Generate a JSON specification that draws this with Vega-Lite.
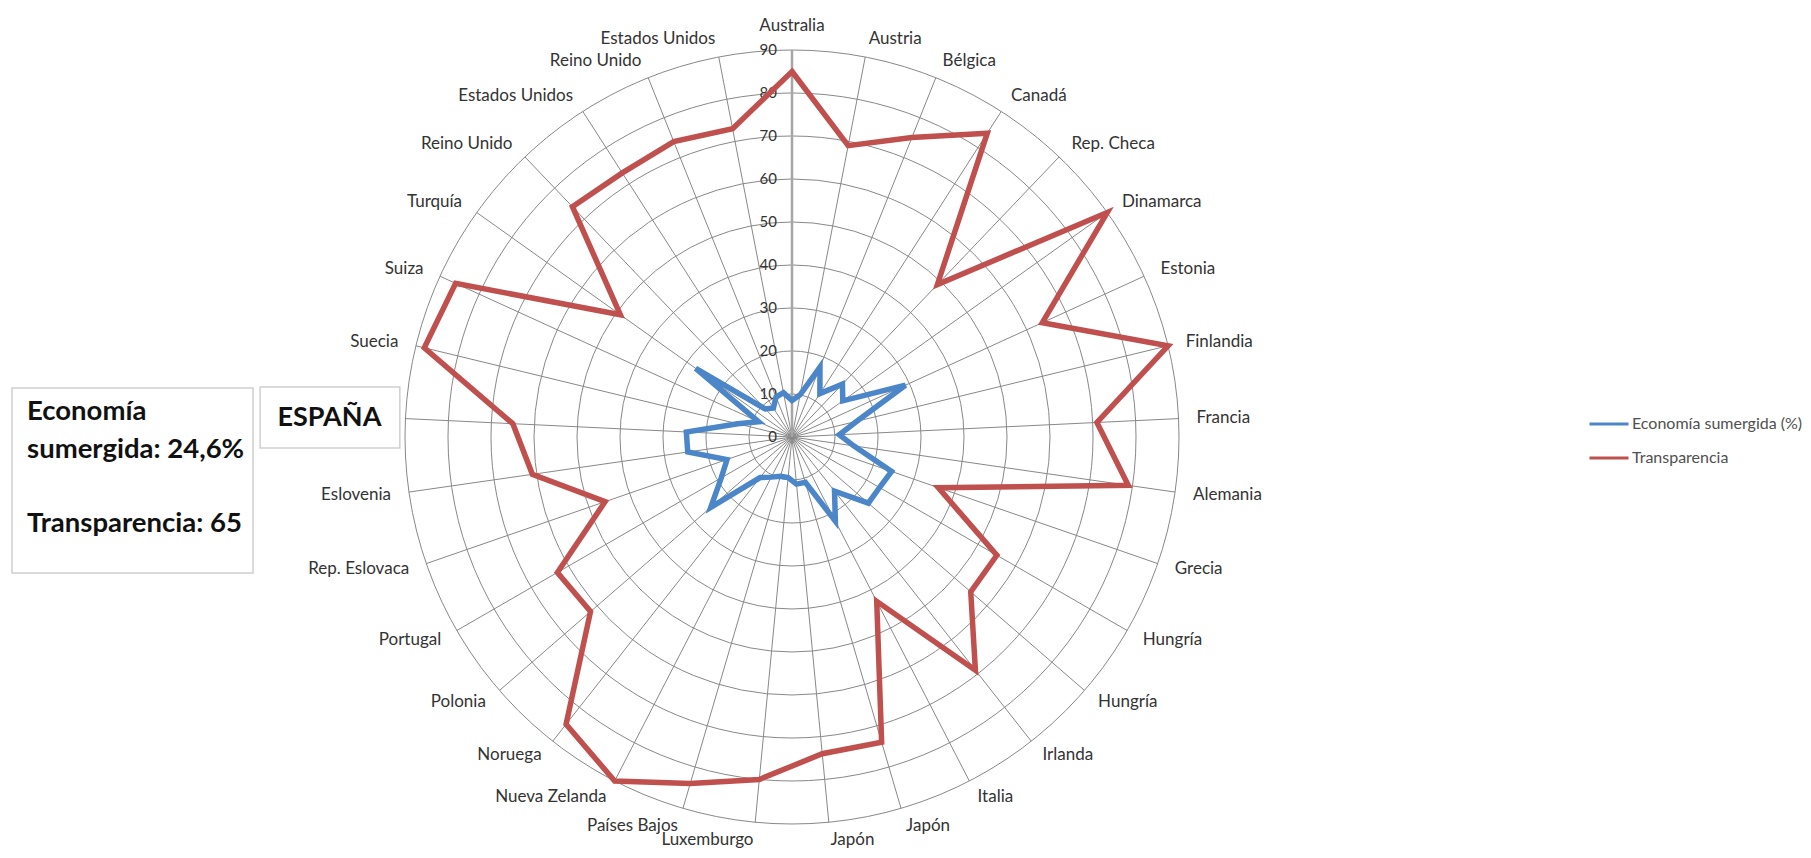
{
  "$schema": "https://vega.github.io/schema/vega-lite/v6.json",
  "width": 1811,
  "height": 858,
  "autosize": "none",
  "padding": 0,
  "background": "white",
  "config": {"view": {"stroke": null}, "font": "Lato"},
  "datasets": {
    "paises": [
      {"pais": "Australia", "sumergida": 8.5, "transparencia": 85},
      {"pais": "Austria", "sumergida": 10, "transparencia": 69},
      {"pais": "Bélgica", "sumergida": 17.5, "transparencia": 75},
      {"pais": "Canadá", "sumergida": 12, "transparencia": 84},
      {"pais": "Rep. Checa", "sumergida": 17, "transparencia": 49},
      {"pais": "Dinamarca", "sumergida": 14.5, "transparencia": 90},
      {"pais": "Estonia", "sumergida": 29, "transparencia": 64},
      {"pais": "Finlandia", "sumergida": 15.5, "transparencia": 90},
      {"pais": "Francia", "sumergida": 11, "transparencia": 71},
      {"pais": "Alemania", "sumergida": 14.5, "transparencia": 79},
      {"pais": "Grecia", "sumergida": 24.5, "transparencia": 36},
      {"pais": "Hungría", "sumergida": 23.5, "transparencia": 55},
      {"pais": "Hungría", "sumergida": 23.5, "transparencia": 55},
      {"pais": "Irlanda", "sumergida": 16, "transparencia": 69},
      {"pais": "Italia", "sumergida": 22, "transparencia": 43},
      {"pais": "Japón", "sumergida": 11, "transparencia": 74},
      {"pais": "Japón", "sumergida": 11, "transparencia": 74},
      {"pais": "Luxemburgo", "sumergida": 9.5, "transparencia": 80},
      {"pais": "Países Bajos", "sumergida": 9.5, "transparencia": 84},
      {"pais": "Nueva Zelanda", "sumergida": 10.5, "transparencia": 90},
      {"pais": "Noruega", "sumergida": 12, "transparencia": 85},
      {"pais": "Polonia", "sumergida": 25, "transparencia": 62},
      {"pais": "Portugal", "sumergida": 19, "transparencia": 63},
      {"pais": "Rep. Eslovaca", "sumergida": 16, "transparencia": 46},
      {"pais": "Eslovenia", "sumergida": 24.5, "transparencia": 61},
      {"pais": "España", "sumergida": 24.6, "transparencia": 65},
      {"pais": "Suecia", "sumergida": 13, "transparencia": 88},
      {"pais": "Suiza", "sumergida": 8.5, "transparencia": 86},
      {"pais": "Turquía", "sumergida": 27.5, "transparencia": 49},
      {"pais": "Reino Unido", "sumergida": 9, "transparencia": 74},
      {"pais": "Estados Unidos", "sumergida": 8, "transparencia": 73},
      {"pais": "Reino Unido", "sumergida": 10, "transparencia": 74},
      {"pais": "Estados Unidos", "sumergida": 10.5, "transparencia": 73}
    ],
    "niveles": [
      {"nivel": 0}, {"nivel": 10}, {"nivel": 20}, {"nivel": 30}, {"nivel": 40},
      {"nivel": 50}, {"nivel": 60}, {"nivel": 70}, {"nivel": 80}, {"nivel": 90}
    ]
  },
  "data": {"name": "paises"},
  "transform": [
    {"window": [{"op": "row_number", "as": "idx"}]},
    {"calculate": "(datum.idx - 1) * 2 * PI / 33", "as": "ang"},
    {"calculate": "0", "as": "cero"},
    {"calculate": "90 * sin(datum.ang)", "as": "sx"},
    {"calculate": "90 * cos(datum.ang)", "as": "sy"},
    {"calculate": "94.2 * sin(datum.ang)", "as": "lx"},
    {"calculate": "94.2 * cos(datum.ang)", "as": "ly"}
  ],
  "layer": [
    {
      "data": {"name": "niveles"},
      "transform": [{"filter": "datum.nivel > 0"}, {"calculate": "0", "as": "cero"}],
      "mark": {"type": "point", "shape": "circle", "filled": false, "opacity": 1, "stroke": "#888888", "strokeWidth": 1},
      "encoding": {
        "x": {"field": "cero", "type": "quantitative", "scale": {"domain": [-184.19, 236.98], "nice": false, "zero": false}, "axis": null},
        "y": {"field": "cero", "type": "quantitative", "scale": {"domain": [-97.91, 101.63], "nice": false, "zero": false}, "axis": null},
        "size": {"field": "nivel", "type": "quantitative", "scale": {"type": "pow", "exponent": 2, "domain": [0, 90], "range": [0, 599076]}, "legend": null}
      }
    },
    {
      "transform": [{"filter": "datum.idx > 1"}],
      "mark": {"type": "rule", "color": "#888888", "strokeWidth": 1},
      "encoding": {
        "x": {"field": "cero", "type": "quantitative"},
        "y": {"field": "cero", "type": "quantitative"},
        "x2": {"field": "sx"},
        "y2": {"field": "sy"}
      }
    },
    {
      "transform": [{"filter": "datum.idx == 1"}],
      "mark": {"type": "rule", "color": "#a6a6a6", "strokeWidth": 2.5},
      "encoding": {
        "x": {"field": "cero", "type": "quantitative"},
        "y": {"field": "cero", "type": "quantitative"},
        "x2": {"field": "sx"},
        "y2": {"field": "sy"}
      }
    },
    {
      "data": {"name": "niveles"},
      "transform": [{"calculate": "0", "as": "cero"}],
      "mark": {"type": "text", "align": "right", "baseline": "middle", "dx": -15, "fontSize": 15, "color": "#333333"},
      "encoding": {
        "x": {"field": "cero", "type": "quantitative"},
        "y": {"field": "nivel", "type": "quantitative"},
        "text": {"field": "nivel", "type": "quantitative"}
      }
    },
    {
      "transform": [
        {"fold": ["sumergida", "transparencia"], "as": ["serie", "valor"]},
        {"calculate": "datum.valor * sin(datum.ang)", "as": "px"},
        {"calculate": "datum.valor * cos(datum.ang)", "as": "py"}
      ],
      "mark": {"type": "line", "interpolate": "linear-closed", "strokeWidth": 5.5, "strokeJoin": "miter"},
      "encoding": {
        "x": {"field": "px", "type": "quantitative"},
        "y": {"field": "py", "type": "quantitative"},
        "order": {"field": "idx", "type": "quantitative"},
        "color": {
          "field": "serie",
          "type": "nominal",
          "scale": {"domain": ["sumergida", "transparencia"], "range": ["#4A86C8", "#C0504D"]},
          "legend": {
            "orient": "none",
            "legendX": 1588,
            "legendY": 403,
            "title": null,
            "labelExpr": "datum.label == 'sumergida' ? 'Economía sumergida (%)' : 'Transparencia'",
            "labelLimit": 400,
            "symbolType": "stroke",
            "symbolSize": 1521,
            "symbolStrokeWidth": 3,
            "labelFont": "Lato",
            "labelFontSize": 16,
            "labelColor": "#505050",
            "labelOffset": 2,
            "rowPadding": 5
          }
        }
      }
    },
    {
      "transform": [{"filter": "datum.idx >= 2 && datum.idx <= 17"}],
      "mark": {"type": "text", "align": "left", "baseline": "middle", "fontSize": 17, "color": "#333333"},
      "encoding": {
        "x": {"field": "lx", "type": "quantitative"},
        "y": {"field": "ly", "type": "quantitative"},
        "text": {"field": "pais", "type": "nominal"}
      }
    },
    {
      "transform": [{"filter": "datum.idx >= 18 && datum.pais != 'España'"}],
      "mark": {"type": "text", "align": "right", "baseline": "middle", "fontSize": 17, "color": "#333333"},
      "encoding": {
        "x": {"field": "lx", "type": "quantitative"},
        "y": {"field": "ly", "type": "quantitative"},
        "text": {"field": "pais", "type": "nominal"}
      }
    },
    {
      "transform": [{"filter": "datum.idx == 1"}],
      "mark": {"type": "text", "align": "center", "baseline": "middle", "dy": -6, "fontSize": 17, "color": "#333333"},
      "encoding": {
        "x": {"field": "lx", "type": "quantitative"},
        "y": {"field": "ly", "type": "quantitative"},
        "text": {"field": "pais", "type": "nominal"}
      }
    },
    {
      "data": {"values": [{}]},
      "mark": {"type": "rect", "fill": "white", "stroke": "#cfcfcf", "strokeWidth": 1.5},
      "encoding": {
        "x": {"datum": -181.4, "type": "quantitative"},
        "x2": {"datum": -125.35},
        "y": {"datum": 11.4, "type": "quantitative"},
        "y2": {"datum": -31.63}
      }
    },
    {
      "data": {"values": [{}]},
      "mark": {"type": "rect", "fill": "white", "stroke": "#cfcfcf", "strokeWidth": 1.5},
      "encoding": {
        "x": {"datum": -123.7, "type": "quantitative"},
        "x2": {"datum": -91.2},
        "y": {"datum": 11.63, "type": "quantitative"},
        "y2": {"datum": -2.56}
      }
    },
    {
      "data": {"values": [{}]},
      "mark": {"type": "text", "align": "left", "baseline": "alphabetic", "lineHeight": 37.5, "fontSize": 27.5, "fontWeight": "bold", "color": "#111111"},
      "encoding": {
        "x": {"datum": -177.9, "type": "quantitative"},
        "y": {"datum": 3.95, "type": "quantitative"},
        "text": {"value": ["Economía", "sumergida: 24,6%"]}
      }
    },
    {
      "data": {"values": [{}]},
      "mark": {"type": "text", "align": "left", "baseline": "alphabetic", "fontSize": 27.5, "fontWeight": "bold", "color": "#111111"},
      "encoding": {
        "x": {"datum": -177.9, "type": "quantitative"},
        "y": {"datum": -22.09, "type": "quantitative"},
        "text": {"value": "Transparencia: 65"}
      }
    },
    {
      "transform": [{"filter": "datum.pais == 'España'"}],
      "mark": {"type": "text", "align": "right", "baseline": "middle", "dx": -6, "fontSize": 27, "fontWeight": "bold", "color": "#111111"},
      "encoding": {
        "x": {"field": "lx", "type": "quantitative"},
        "y": {"field": "ly", "type": "quantitative"},
        "text": {"value": "ESPAÑA"}
      }
    }
  ]
}
